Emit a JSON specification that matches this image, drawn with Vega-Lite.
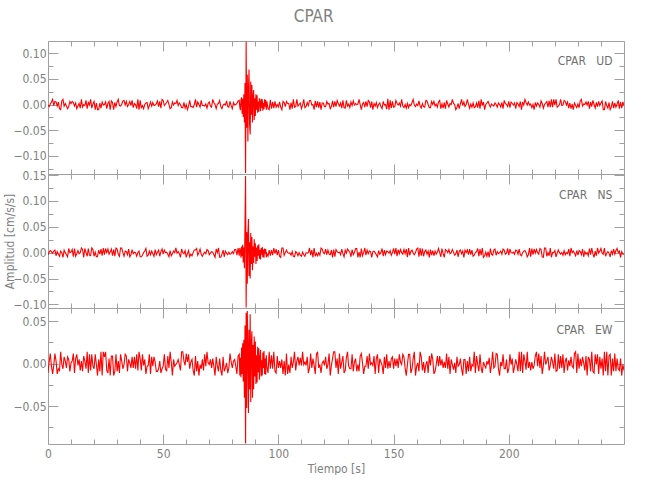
{
"$schema": "https://vega.github.io/schema/vega-lite/v6.json",
"padding": {"left": 2, "top": 8, "right": 0, "bottom": 0},
"bounds": "flush",
"spacing": 0,
"title": {"text": "CPAR", "font": "Liberation Sans Narrow, DejaVu Sans Condensed, Liberation Sans, sans-serif", "fontSize": 17, "fontWeight": "normal", "color": "#808080", "anchor": "middle", "offset": 14},
"data": {"values": [
{"t":0,"u":-0.001,"n":-0.004,"e":-0.011},{"t":0.5,"u":-0.004,"n":0.001,"e":0.002},{"t":1,"u":0.001,"n":0.004,"e":0.012},{"t":1.5,"u":0.005,"n":0.002,"e":-0.003},{"t":2,"u":0.010,"n":-0.001,"e":-0.012},{"t":2.5,"u":-0.002,"n":0.003,"e":-0.002},{"t":3,"u":0.006,"n":0.005,"e":0.012},{"t":3.5,"u":0.005,"n":-0.006,"e":0.003},{"t":4,"u":-0.003,"n":0.002,"e":-0.012},{"t":4.5,"u":0.005,"n":-0.003,"e":-0.006},
{"t":5,"u":-0.008,"n":-0.007,"e":-0.008},{"t":5.5,"u":-0.010,"n":0.003,"e":0.014},{"t":6,"u":0.007,"n":0,"e":-0.001},{"t":6.5,"u":0.010,"n":-0.009,"e":-0.006},{"t":7,"u":-0.003,"n":0.005,"e":0.008},{"t":7.5,"u":0.002,"n":0,"e":0.003},{"t":8,"u":-0.003,"n":-0.004,"e":-0.005},{"t":8.5,"u":-0.008,"n":-0.008,"e":0.008},{"t":9,"u":-0.004,"n":0.008,"e":0.005},{"t":9.5,"u":0.006,"n":0,"e":-0.009},
{"t":10,"u":0.002,"n":0.001,"e":0.001},{"t":10.5,"u":0.006,"n":0.006,"e":0.003},{"t":11,"u":0.004,"n":-0.008,"e":0.012},{"t":11.5,"u":-0.003,"n":0.008,"e":-0.011},{"t":12,"u":0.003,"n":-0.007,"e":0.006},{"t":12.5,"u":-0.008,"n":-0.002,"e":0.011},{"t":13,"u":-0.003,"n":0.004,"e":-0.002},{"t":13.5,"u":0.002,"n":-0.002,"e":0.005},{"t":14,"u":-0.007,"n":0,"e":-0.008},{"t":14.5,"u":0.010,"n":0.009,"e":0.003},
{"t":15,"u":-0.005,"n":0.006,"e":-0.009},{"t":15.5,"u":0,"n":-0.009,"e":0.009},{"t":16,"u":-0.002,"n":0.008,"e":0.003},{"t":16.5,"u":0.008,"n":0,"e":-0.006},{"t":17,"u":-0.008,"n":-0.007,"e":0.014},{"t":17.5,"u":0.004,"n":0.008,"e":-0.011},{"t":18,"u":-0.001,"n":-0.005,"e":0.011},{"t":18.5,"u":0.010,"n":-0.006,"e":-0.008},{"t":19,"u":-0.007,"n":0.009,"e":0.011},{"t":19.5,"u":0.001,"n":0.006,"e":-0.003},
{"t":20,"u":0.006,"n":-0.007,"e":-0.006},{"t":20.5,"u":-0.010,"n":0.001,"e":0.011},{"t":21,"u":0.003,"n":-0.008,"e":-0.001},{"t":21.5,"u":-0.010,"n":-0.007,"e":-0.014},{"t":22,"u":-0.010,"n":0.005,"e":0.005},{"t":22.5,"u":0.003,"n":-0.003,"e":-0.009},{"t":23,"u":-0.007,"n":0.007,"e":0.014},{"t":23.5,"u":0.005,"n":-0.006,"e":-0.014},{"t":24,"u":-0.001,"n":0.009,"e":0.014},{"t":24.5,"u":0,"n":-0.004,"e":0.008},
{"t":25,"u":0.005,"n":0.008,"e":0.014},{"t":25.5,"u":-0.008,"n":0,"e":-0.008},{"t":26,"u":0.002,"n":0.007,"e":-0.011},{"t":26.5,"u":0.006,"n":-0.003,"e":0.006},{"t":27,"u":-0.010,"n":0.001,"e":-0.014},{"t":27.5,"u":0.007,"n":0.007,"e":0.009},{"t":28,"u":0.004,"n":-0.006,"e":0.009},{"t":28.5,"u":-0.010,"n":0.006,"e":-0.014},{"t":29,"u":0.004,"n":-0.007,"e":-0.009},{"t":29.5,"u":-0.004,"n":0.009,"e":0.011},
{"t":30,"u":0.005,"n":0.007,"e":-0.009},{"t":30.5,"u":0.010,"n":-0.003,"e":0.003},{"t":31,"u":-0.002,"n":-0.007,"e":-0.011},{"t":31.5,"u":-0.003,"n":0.009,"e":0.011},{"t":32,"u":0,"n":0.009,"e":0.003},{"t":32.5,"u":0.007,"n":0,"e":-0.006},{"t":33,"u":0.008,"n":-0.007,"e":-0.001},{"t":33.5,"u":-0.001,"n":0.003,"e":0.011},{"t":34,"u":0.006,"n":0.002,"e":0.009},{"t":34.5,"u":-0.004,"n":-0.004,"e":-0.009},
{"t":35,"u":0,"n":0.007,"e":0.005},{"t":35.5,"u":0.006,"n":-0.008,"e":0.001},{"t":36,"u":-0.002,"n":-0.004,"e":-0.005},{"t":36.5,"u":0.008,"n":0.006,"e":0.008},{"t":37,"u":-0.006,"n":-0.002,"e":-0.005},{"t":37.5,"u":0.002,"n":0.001,"e":0.008},{"t":38,"u":0,"n":0,"e":-0.006},{"t":38.5,"u":-0.008,"n":-0.007,"e":0.011},{"t":39,"u":0.010,"n":0,"e":-0.008},{"t":39.5,"u":-0.010,"n":0.003,"e":0.014},
{"t":40,"u":0.008,"n":-0.008,"e":0.006},{"t":40.5,"u":-0.006,"n":-0.008,"e":-0.008},{"t":41,"u":-0.002,"n":-0.005,"e":0.011},{"t":41.5,"u":-0.008,"n":0,"e":-0.002},{"t":42,"u":0,"n":0.003,"e":0.005},{"t":42.5,"u":0.003,"n":0.008,"e":-0.012},{"t":43,"u":0.004,"n":-0.007,"e":-0.003},{"t":43.5,"u":-0.008,"n":-0.005,"e":-0.002},{"t":44,"u":-0.002,"n":0.003,"e":0.011},{"t":44.5,"u":0.005,"n":-0.004,"e":-0.012},
{"t":45,"u":-0.003,"n":0.003,"e":0.008},{"t":45.5,"u":0.004,"n":-0.002,"e":-0.003},{"t":46,"u":-0.002,"n":-0.007,"e":0.008},{"t":46.5,"u":-0.001,"n":0.006,"e":0.002},{"t":47,"u":0.001,"n":-0.004,"e":-0.009},{"t":47.5,"u":0.007,"n":0.001,"e":-0.009},{"t":48,"u":-0.004,"n":0.005,"e":-0.006},{"t":48.5,"u":0.006,"n":-0.007,"e":0.003},{"t":49,"u":-0.007,"n":0.002,"e":-0.011},{"t":49.5,"u":0.010,"n":0.007,"e":-0.006},
{"t":50,"u":0.008,"n":-0.003,"e":-0.003},{"t":50.5,"u":-0.002,"n":0.005,"e":0.011},{"t":51,"u":0.001,"n":0,"e":-0.006},{"t":51.5,"u":0.004,"n":0.001,"e":-0.009},{"t":52,"u":0.008,"n":-0.003,"e":0.009},{"t":52.5,"u":0,"n":-0.008,"e":-0.005},{"t":53,"u":-0.008,"n":0.004,"e":0.014},{"t":53.5,"u":-0.006,"n":-0.006,"e":0.002},{"t":54,"u":0.005,"n":-0.002,"e":-0.014},{"t":54.5,"u":-0.001,"n":0.003,"e":0.005},
{"t":55,"u":0.003,"n":0,"e":-0.003},{"t":55.5,"u":0.002,"n":0.009,"e":-0.001},{"t":56,"u":0.008,"n":-0.001,"e":0.001},{"t":56.5,"u":-0.002,"n":0.002,"e":0.005},{"t":57,"u":0.003,"n":-0.002,"e":-0.001},{"t":57.5,"u":0,"n":-0.009,"e":-0.008},{"t":58,"u":-0.006,"n":0.007,"e":0.014},{"t":58.5,"u":-0.006,"n":0,"e":0.014},{"t":59,"u":0.004,"n":-0.002,"e":0.003},{"t":59.5,"u":-0.007,"n":0.004,"e":-0.002},
{"t":60,"u":0,"n":-0.009,"e":0.012},{"t":60.5,"u":-0.010,"n":-0.002,"e":0.002},{"t":61,"u":-0.003,"n":0.004,"e":0.011},{"t":61.5,"u":0.008,"n":-0.008,"e":-0.006},{"t":62,"u":-0.004,"n":-0.003,"e":0.002},{"t":62.5,"u":-0.004,"n":-0.006,"e":0.005},{"t":63,"u":-0.006,"n":0,"e":-0.008},{"t":63.5,"u":0,"n":0.005,"e":-0.014},{"t":64,"u":0.010,"n":0.005,"e":0.009},{"t":64.5,"u":-0.005,"n":0.008,"e":-0.009},
{"t":65,"u":0.005,"n":-0.005,"e":0.003},{"t":65.5,"u":0,"n":0,"e":-0.014},{"t":66,"u":-0.005,"n":0.007,"e":-0.001},{"t":66.5,"u":0.008,"n":-0.003,"e":-0.006},{"t":67,"u":-0.002,"n":-0.007,"e":0.005},{"t":67.5,"u":-0.002,"n":-0.002,"e":-0.008},{"t":68,"u":-0.003,"n":0.001,"e":0.011},{"t":68.5,"u":0.001,"n":-0.002,"e":-0.003},{"t":69,"u":-0.007,"n":0.006,"e":0.014},{"t":69.5,"u":0.002,"n":0.004,"e":0.001},
{"t":70,"u":0.005,"n":-0.004,"e":-0.001},{"t":70.5,"u":-0.003,"n":-0.001,"e":0.005},{"t":71,"u":-0.005,"n":0.002,"e":-0.005},{"t":71.5,"u":0.010,"n":0.001,"e":0.006},{"t":72,"u":0.004,"n":-0.004,"e":-0.003},{"t":72.5,"u":0,"n":-0.009,"e":-0.014},{"t":73,"u":-0.008,"n":0.007,"e":0.008},{"t":73.5,"u":0.001,"n":0,"e":-0.003},{"t":74,"u":0.002,"n":0.009,"e":-0.009},{"t":74.5,"u":0.008,"n":-0.009,"e":0.006},
{"t":75,"u":-0.004,"n":-0.009,"e":-0.008},{"t":75.5,"u":-0.008,"n":-0.003,"e":-0.014},{"t":76,"u":-0.001,"n":0.005,"e":0.008},{"t":76.5,"u":0.001,"n":-0.008,"e":-0.009},{"t":77,"u":-0.001,"n":0.003,"e":-0.005},{"t":77.5,"u":0.007,"n":-0.001,"e":0.001},{"t":78,"u":-0.004,"n":-0.004,"e":-0.011},{"t":78.5,"u":-0.005,"n":0.001,"e":-0.005},{"t":79,"u":0.006,"n":-0.003,"e":0.012},{"t":79.5,"u":-0.002,"n":-0.002,"e":0.002},
{"t":80,"u":-0.008,"n":0.002,"e":-0.005},{"t":80.5,"u":0.004,"n":-0.002,"e":0.003},{"t":81,"u":-0.001,"n":0.006,"e":0.005},{"t":81.5,"u":0,"n":0.006,"e":-0.003},{"t":82,"u":0.002,"n":-0.005,"e":-0.012},{"t":82.5,"u":0.007,"n":0.009,"e":0.009},
{"t":83,"u":0.008,"n":-0.006,"e":0.011},{"t":83.25,"u":-0.005,"n":0.009,"e":-0.014},{"t":83.5,"u":-0.011,"n":0.004,"e":0.007},{"t":83.75,"u":0.009,"n":-0.010,"e":-0.016},{"t":84,"u":0.014,"n":0.012,"e":0.019},{"t":84.25,"u":-0.018,"n":-0.007,"e":-0.012},{"t":84.5,"u":0.011,"n":0.015,"e":0.024},{"t":84.75,"u":-0.024,"n":-0.019,"e":-0.021},{"t":85,"u":0.020,"n":0.010,"e":0.028},{"t":85.25,"u":-0.035,"n":-0.030,"e":-0.040},
{"t":85.5,"u":0.042,"n":0.055,"e":0.045},{"t":85.75,"u":-0.133,"n":0.148,"e":-0.094},{"t":86,"u":0.122,"n":-0.106,"e":0.060},{"t":86.25,"u":-0.045,"n":0.040,"e":-0.052},{"t":86.5,"u":0.058,"n":-0.060,"e":0.062},{"t":86.75,"u":-0.072,"n":0.035,"e":0.020},{"t":87,"u":0.030,"n":0.065,"e":-0.058},{"t":87.25,"u":0.068,"n":-0.045,"e":0.040},{"t":87.5,"u":-0.040,"n":0.020,"e":-0.030},{"t":87.75,"u":-0.058,"n":-0.050,"e":0.058},
{"t":88,"u":0.045,"n":0.038,"e":-0.045},{"t":88.25,"u":-0.020,"n":-0.022,"e":0.025},{"t":88.5,"u":0.038,"n":0.030,"e":0.038},{"t":88.75,"u":-0.035,"n":-0.034,"e":-0.040},{"t":89,"u":0.015,"n":0.012,"e":0.022},{"t":89.25,"u":0.028,"n":-0.020,"e":-0.030},{"t":89.5,"u":-0.030,"n":0.026,"e":0.032},{"t":89.75,"u":0.012,"n":-0.008,"e":-0.015},{"t":90,"u":-0.022,"n":0.018,"e":0.026},{"t":90.25,"u":0.020,"n":-0.022,"e":-0.024},
{"t":90.5,"u":-0.010,"n":0.010,"e":0.010},{"t":90.75,"u":0.018,"n":-0.016,"e":-0.022},{"t":91,"u":-0.016,"n":0.014,"e":0.020},{"t":91.25,"u":0.006,"n":-0.006,"e":-0.010},{"t":91.5,"u":-0.014,"n":0.016,"e":0.018},{"t":91.75,"u":0.012,"n":-0.012,"e":-0.019},{"t":92,"u":0.004,"n":0.005,"e":0.006},{"t":92.25,"u":-0.013,"n":-0.013,"e":0.016},{"t":92.5,"u":0.011,"n":0.009,"e":-0.015},{"t":92.75,"u":-0.006,"n":-0.004,"e":0.004},
{"t":93,"u":0.010,"n":0.011,"e":-0.014},{"t":93.25,"u":-0.012,"n":-0.009,"e":0.013},{"t":93.5,"u":0.003,"n":0.006,"e":-0.005},{"t":93.75,"u":-0.009,"n":-0.010,"e":0.015},{"t":94,"u":0.010,"n":0.008,"e":-0.012},{"t":94.25,"u":-0.004,"n":-0.002,"e":0.006},{"t":94.5,"u":0.009,"n":0.007,"e":-0.013},{"t":94.75,"u":-0.010,"n":-0.009,"e":0.010},
{"t":95,"u":0.006,"n":-0.002,"e":-0.003},{"t":95.5,"u":-0.008,"n":-0.007,"e":-0.011},{"t":96,"u":-0.010,"n":0.005,"e":0.014},{"t":96.5,"u":0.009,"n":-0.006,"e":-0.006},{"t":97,"u":-0.008,"n":0.005,"e":0.010},{"t":97.5,"u":0.005,"n":-0.005,"e":-0.006},{"t":98,"u":-0.007,"n":0.009,"e":0.014},{"t":98.5,"u":0.006,"n":-0.002,"e":-0.009},{"t":99,"u":-0.005,"n":0.007,"e":-0.011},{"t":99.5,"u":0,"n":-0.005,"e":0.009},
{"t":100,"u":-0.005,"n":0.005,"e":-0.005},{"t":100.5,"u":0.005,"n":-0.007,"e":0.003},{"t":101,"u":-0.005,"n":-0.009,"e":-0.005},{"t":101.5,"u":-0.010,"n":0.009,"e":0.005},{"t":102,"u":0.006,"n":0.009,"e":-0.012},{"t":102.5,"u":0.004,"n":-0.005,"e":0.003},{"t":103,"u":-0.004,"n":0,"e":-0.014},{"t":103.5,"u":0.006,"n":0.005,"e":0.012},{"t":104,"u":0.002,"n":0,"e":-0.012},{"t":104.5,"u":0.002,"n":-0.001,"e":-0.001},
{"t":105,"u":-0.010,"n":-0.001,"e":-0.011},{"t":105.5,"u":0.004,"n":-0.005,"e":0.008},{"t":106,"u":-0.008,"n":0.002,"e":-0.005},{"t":106.5,"u":0.010,"n":-0.007,"e":0.002},{"t":107,"u":-0.005,"n":-0.008,"e":0.014},{"t":107.5,"u":-0.004,"n":0.002,"e":-0.008},{"t":108,"u":0.010,"n":0,"e":0.003},{"t":108.5,"u":-0.003,"n":-0.006,"e":0.008},{"t":109,"u":0,"n":0,"e":-0.002},{"t":109.5,"u":0.003,"n":-0.005,"e":0.007},
{"t":110,"u":-0.008,"n":-0.007,"e":-0.002},{"t":110.5,"u":-0.001,"n":0.001,"e":0.014},{"t":111,"u":0.010,"n":-0.004,"e":-0.001},{"t":111.5,"u":-0.006,"n":-0.007,"e":0.002},{"t":112,"u":-0.004,"n":0,"e":-0.002},{"t":112.5,"u":0.004,"n":-0.001,"e":0.008},{"t":113,"u":-0.002,"n":0,"e":-0.011},{"t":113.5,"u":0.008,"n":0.009,"e":-0.005},{"t":114,"u":0.008,"n":-0.005,"e":0.012},{"t":114.5,"u":-0.001,"n":0.005,"e":-0.005},
{"t":115,"u":0,"n":-0.009,"e":0.006},{"t":115.5,"u":-0.010,"n":0.009,"e":-0.002},{"t":116,"u":0.007,"n":-0.007,"e":-0.012},{"t":116.5,"u":-0.005,"n":-0.001,"e":0.011},{"t":117,"u":0.006,"n":-0.006,"e":0.014},{"t":117.5,"u":-0.006,"n":0,"e":-0.005},{"t":118,"u":0.005,"n":-0.005,"e":-0.001},{"t":118.5,"u":-0.010,"n":0.009,"e":-0.011},{"t":119,"u":0.003,"n":0.007,"e":0.001},{"t":119.5,"u":0.003,"n":0,"e":0.003},
{"t":120,"u":-0.004,"n":-0.002,"e":-0.002},{"t":120.5,"u":-0.004,"n":0.007,"e":0.008},{"t":121,"u":0.006,"n":-0.004,"e":-0.006},{"t":121.5,"u":0.001,"n":0.005,"e":-0.001},{"t":122,"u":0.002,"n":-0.003,"e":0.012},{"t":122.5,"u":-0.008,"n":-0.004,"e":-0.014},{"t":123,"u":-0.004,"n":0.005,"e":-0.002},{"t":123.5,"u":0.007,"n":-0.009,"e":0.006},{"t":124,"u":-0.005,"n":0.006,"e":0.014},{"t":124.5,"u":0.006,"n":-0.008,"e":0.014},
{"t":125,"u":-0.004,"n":0.006,"e":-0.005},{"t":125.5,"u":0.008,"n":0.002,"e":0.006},{"t":126,"u":0.002,"n":0,"e":-0.012},{"t":126.5,"u":-0.003,"n":0.001,"e":0.012},{"t":127,"u":0.003,"n":-0.004,"e":-0.006},{"t":127.5,"u":-0.007,"n":0.007,"e":0.002},{"t":128,"u":0.008,"n":-0.002,"e":0.009},{"t":128.5,"u":-0.006,"n":-0.008,"e":-0.011},{"t":129,"u":-0.007,"n":0.005,"e":-0.008},{"t":129.5,"u":0.008,"n":-0.001,"e":0.007},
{"t":130,"u":-0.003,"n":0.007,"e":0.014},{"t":130.5,"u":0.001,"n":0.004,"e":-0.003},{"t":131,"u":-0.006,"n":0.001,"e":-0.006},{"t":131.5,"u":0.005,"n":-0.008,"e":-0.006},{"t":132,"u":-0.002,"n":0.006,"e":0.011},{"t":132.5,"u":0.007,"n":-0.004,"e":-0.009},{"t":133,"u":-0.001,"n":0,"e":0.002},{"t":133.5,"u":0.002,"n":0.008,"e":0.006},{"t":134,"u":0,"n":0.008,"e":-0.009},{"t":134.5,"u":0.001,"n":-0.009,"e":-0.001},
{"t":135,"u":0.010,"n":0.001,"e":-0.009},{"t":135.5,"u":0,"n":-0.009,"e":0.009},{"t":136,"u":-0.010,"n":0.008,"e":0.012},{"t":136.5,"u":0.001,"n":-0.006,"e":0.001},{"t":137,"u":0.004,"n":0,"e":-0.012},{"t":137.5,"u":-0.005,"n":0.009,"e":-0.003},{"t":138,"u":0.006,"n":-0.005,"e":-0.003},{"t":138.5,"u":-0.004,"n":0.005,"e":0.009},{"t":139,"u":0.008,"n":-0.002,"e":-0.006},{"t":139.5,"u":0.005,"n":0.003,"e":0.012},
{"t":140,"u":-0.006,"n":0.002,"e":-0.001},{"t":140.5,"u":0.006,"n":-0.009,"e":0.001},{"t":141,"u":-0.010,"n":0.002,"e":-0.002},{"t":141.5,"u":0.002,"n":0.003,"e":0.009},{"t":142,"u":-0.003,"n":0,"e":-0.012},{"t":142.5,"u":0.004,"n":-0.004,"e":0.006},{"t":143,"u":-0.006,"n":-0.008,"e":0.011},{"t":143.5,"u":0,"n":0.004,"e":-0.011},{"t":144,"u":0.003,"n":-0.003,"e":0.006},{"t":144.5,"u":-0.004,"n":0,"e":0.002},
{"t":145,"u":-0.008,"n":0.008,"e":-0.002},{"t":145.5,"u":0.006,"n":-0.007,"e":-0.012},{"t":146,"u":-0.001,"n":0.005,"e":0.008},{"t":146.5,"u":0,"n":-0.004,"e":-0.005},{"t":147,"u":-0.009,"n":0.003,"e":0.011},{"t":147.5,"u":0.011,"n":0.002,"e":-0.006},{"t":148,"u":-0.010,"n":-0.001,"e":0.003},{"t":148.5,"u":0.008,"n":0.004,"e":-0.005},{"t":149,"u":-0.007,"n":-0.005,"e":0.006},{"t":149.5,"u":0.006,"n":0,"e":0.008},
{"t":150,"u":-0.005,"n":0.008,"e":-0.006},{"t":150.5,"u":-0.004,"n":-0.003,"e":0.006},{"t":151,"u":0.008,"n":0.009,"e":-0.003},{"t":151.5,"u":0.002,"n":-0.007,"e":0.006},{"t":152,"u":-0.001,"n":0.006,"e":-0.005},{"t":152.5,"u":0.003,"n":-0.002,"e":0.011},{"t":153,"u":-0.003,"n":0.006,"e":0.002},{"t":153.5,"u":0.010,"n":0,"e":-0.001},{"t":154,"u":-0.003,"n":-0.003,"e":0.011},{"t":154.5,"u":-0.006,"n":0.006,"e":0.008},
{"t":155,"u":0,"n":-0.002,"e":-0.005},{"t":155.5,"u":-0.007,"n":0.007,"e":-0.014},{"t":156,"u":0.002,"n":-0.009,"e":-0.001},{"t":156.5,"u":-0.006,"n":0.009,"e":0.011},{"t":157,"u":0,"n":-0.005,"e":0.011},{"t":157.5,"u":-0.002,"n":0.002,"e":-0.011},{"t":158,"u":0.004,"n":0.005,"e":-0.006},{"t":158.5,"u":0.010,"n":-0.001,"e":0.006},{"t":159,"u":-0.001,"n":-0.004,"e":0.014},{"t":159.5,"u":-0.004,"n":0,"e":-0.014},
{"t":160,"u":0.001,"n":0.007,"e":-0.003},{"t":160.5,"u":-0.002,"n":0.009,"e":0.001},{"t":161,"u":0.007,"n":-0.008,"e":-0.009},{"t":161.5,"u":-0.003,"n":0.009,"e":0.014},{"t":162,"u":-0.007,"n":-0.006,"e":0.008},{"t":162.5,"u":0.002,"n":0.008,"e":-0.008},{"t":163,"u":-0.004,"n":-0.007,"e":0.002},{"t":163.5,"u":-0.005,"n":0.002,"e":-0.011},{"t":164,"u":0.008,"n":0.005,"e":-0.001},{"t":164.5,"u":0.007,"n":-0.003,"e":0.003},
{"t":165,"u":0,"n":0.003,"e":-0.011},{"t":165.5,"u":-0.006,"n":-0.009,"e":0.009},{"t":166,"u":-0.006,"n":0.006,"e":-0.002},{"t":166.5,"u":0.006,"n":-0.005,"e":0.012},{"t":167,"u":0,"n":0.004,"e":0.005},{"t":167.5,"u":0.006,"n":-0.006,"e":-0.012},{"t":168,"u":-0.003,"n":0.003,"e":-0.009},{"t":168.5,"u":0.001,"n":-0.003,"e":-0.001},{"t":169,"u":-0.005,"n":0.001,"e":0.009},{"t":169.5,"u":0.005,"n":0.008,"e":-0.003},
{"t":170,"u":0.008,"n":0,"e":0.009},{"t":170.5,"u":-0.008,"n":-0.008,"e":-0.002},{"t":171,"u":0.001,"n":0.008,"e":0.005},{"t":171.5,"u":-0.007,"n":-0.002,"e":-0.005},{"t":172,"u":0.004,"n":-0.009,"e":0.002},{"t":172.5,"u":-0.008,"n":0.006,"e":-0.005},{"t":173,"u":0.008,"n":0.004,"e":0.012},{"t":173.5,"u":0.001,"n":0,"e":-0.006},{"t":174,"u":-0.005,"n":0.006,"e":0.008},{"t":174.5,"u":0.002,"n":-0.002,"e":-0.012},
{"t":175,"u":0,"n":0,"e":0.005},{"t":175.5,"u":0.010,"n":0.006,"e":-0.001},{"t":176,"u":0.002,"n":0.001,"e":-0.007},{"t":176.5,"u":0,"n":-0.005,"e":0.001},{"t":177,"u":-0.010,"n":-0.002,"e":-0.011},{"t":177.5,"u":-0.006,"n":0.005,"e":0.008},{"t":178,"u":0.002,"n":-0.008,"e":-0.003},{"t":178.5,"u":-0.008,"n":0.003,"e":-0.001},{"t":179,"u":0.002,"n":0.005,"e":0.006},{"t":179.5,"u":0.010,"n":-0.002,"e":-0.006},
{"t":180,"u":-0.002,"n":0.003,"e":-0.014},{"t":180.5,"u":0.005,"n":-0.009,"e":0.005},{"t":181,"u":-0.004,"n":0.005,"e":0.005},{"t":181.5,"u":0,"n":0,"e":-0.012},{"t":182,"u":0.010,"n":0.005,"e":0.003},{"t":182.5,"u":0.001,"n":-0.004,"e":-0.009},{"t":183,"u":-0.007,"n":0.007,"e":0.008},{"t":183.5,"u":0.001,"n":-0.004,"e":-0.009},{"t":184,"u":-0.005,"n":0.005,"e":-0.001},{"t":184.5,"u":0.003,"n":-0.007,"e":-0.003},
{"t":185,"u":-0.006,"n":-0.005,"e":0.014},{"t":185.5,"u":-0.004,"n":0,"e":-0.011},{"t":186,"u":0.003,"n":0.002,"e":0.009},{"t":186.5,"u":-0.006,"n":0.008,"e":-0.001},{"t":187,"u":0.007,"n":-0.007,"e":-0.009},{"t":187.5,"u":-0.008,"n":0.007,"e":0.011},{"t":188,"u":0.010,"n":-0.005,"e":-0.005},{"t":188.5,"u":-0.002,"n":0.009,"e":-0.011},{"t":189,"u":0.005,"n":-0.009,"e":0.002},{"t":189.5,"u":-0.010,"n":-0.006,"e":-0.002},
{"t":190,"u":0,"n":0.001,"e":-0.005},{"t":190.5,"u":0.003,"n":-0.007,"e":0.003},{"t":191,"u":0.006,"n":0.002,"e":-0.001},{"t":191.5,"u":0,"n":-0.009,"e":0.007},{"t":192,"u":-0.005,"n":0.008,"e":-0.011},{"t":192.5,"u":0.001,"n":-0.003,"e":-0.001},{"t":193,"u":-0.001,"n":-0.005,"e":0.014},{"t":193.5,"u":-0.003,"n":0.005,"e":-0.005},{"t":194,"u":0.003,"n":0.007,"e":-0.003},{"t":194.5,"u":0,"n":-0.005,"e":0.012},
{"t":195,"u":-0.005,"n":0.002,"e":0.011},{"t":195.5,"u":0.003,"n":-0.002,"e":-0.006},{"t":196,"u":0,"n":0,"e":-0.014},{"t":196.5,"u":-0.005,"n":0.003,"e":0.002},{"t":197,"u":0.004,"n":-0.003,"e":-0.003},{"t":197.5,"u":-0.008,"n":0.007,"e":0.011},{"t":198,"u":0.008,"n":0.005,"e":-0.006},{"t":198.5,"u":0.002,"n":-0.003,"e":-0.006},{"t":199,"u":0,"n":-0.001,"e":0.005},{"t":199.5,"u":-0.004,"n":0.008,"e":-0.011},
{"t":200,"u":0.006,"n":-0.005,"e":-0.006},{"t":200.5,"u":-0.006,"n":0.007,"e":0.011},{"t":201,"u":0.005,"n":0,"e":-0.001},{"t":201.5,"u":0.002,"n":-0.001,"e":0.006},{"t":202,"u":-0.001,"n":0.001,"e":-0.011},{"t":202.5,"u":0.003,"n":-0.003,"e":-0.003},{"t":203,"u":-0.008,"n":0.005,"e":0.005},{"t":203.5,"u":0.004,"n":0.004,"e":-0.001},{"t":204,"u":0.001,"n":-0.003,"e":-0.009},{"t":204.5,"u":-0.004,"n":0.007,"e":0.014},
{"t":205,"u":0.006,"n":-0.004,"e":-0.009},{"t":205.5,"u":-0.010,"n":-0.006,"e":0.014},{"t":206,"u":0.005,"n":0,"e":-0.011},{"t":206.5,"u":-0.001,"n":0.003,"e":0.011},{"t":207,"u":0.010,"n":0.004,"e":0.003},{"t":207.5,"u":0.004,"n":0,"e":-0.007},{"t":208,"u":-0.001,"n":-0.008,"e":0.014},{"t":208.5,"u":0.005,"n":-0.004,"e":-0.005},{"t":209,"u":-0.001,"n":0.009,"e":0.002},{"t":209.5,"u":0.001,"n":-0.008,"e":-0.008},
{"t":210,"u":-0.006,"n":0.008,"e":0.002},{"t":210.5,"u":0,"n":-0.004,"e":-0.006},{"t":211,"u":-0.010,"n":0.007,"e":-0.002},{"t":211.5,"u":0.004,"n":-0.001,"e":0.009},{"t":212,"u":-0.003,"n":0.006,"e":0.014},{"t":212.5,"u":0.003,"n":0,"e":-0.003},{"t":213,"u":0,"n":-0.003,"e":0.012},{"t":213.5,"u":-0.005,"n":0.008,"e":-0.005},{"t":214,"u":0.007,"n":0.006,"e":0.009},{"t":214.5,"u":0.002,"n":-0.008,"e":-0.012},
{"t":215,"u":-0.007,"n":-0.009,"e":-0.002},{"t":215.5,"u":0,"n":0.009,"e":0.014},{"t":216,"u":0.003,"n":0.009,"e":-0.001},{"t":216.5,"u":0.006,"n":-0.007,"e":0.003},{"t":217,"u":-0.005,"n":0,"e":0.008},{"t":217.5,"u":0.007,"n":-0.006,"e":-0.008},{"t":218,"u":-0.005,"n":0.009,"e":-0.002},{"t":218.5,"u":0.010,"n":-0.009,"e":0.008},{"t":219,"u":-0.005,"n":0,"e":0.002},{"t":219.5,"u":0.010,"n":0,"e":-0.006},
{"t":220,"u":-0.001,"n":0.004,"e":0.012},{"t":220.5,"u":0.010,"n":-0.008,"e":-0.009},{"t":221,"u":-0.005,"n":-0.001,"e":-0.008},{"t":221.5,"u":-0.003,"n":0.005,"e":0.011},{"t":222,"u":0,"n":0,"e":-0.006},{"t":222.5,"u":0.010,"n":-0.003,"e":0.009},{"t":223,"u":-0.002,"n":0,"e":-0.005},{"t":223.5,"u":-0.001,"n":-0.005,"e":0.011},{"t":224,"u":0.008,"n":0.004,"e":-0.011},{"t":224.5,"u":0.006,"n":-0.004,"e":0.003},
{"t":225,"u":-0.001,"n":0,"e":0.007},{"t":225.5,"u":0.005,"n":-0.002,"e":-0.008},{"t":226,"u":-0.007,"n":0.007,"e":0.004},{"t":226.5,"u":0.003,"n":-0.007,"e":-0.003},{"t":227,"u":-0.008,"n":0.009,"e":0.008},{"t":227.5,"u":0.001,"n":0,"e":-0.003},{"t":228,"u":-0.010,"n":0.003,"e":-0.005},{"t":228.5,"u":0.003,"n":-0.001,"e":0.012},{"t":229,"u":-0.002,"n":-0.006,"e":0.014},{"t":229.5,"u":-0.006,"n":0.004,"e":-0.011},
{"t":230,"u":0.001,"n":-0.005,"e":0.012},{"t":230.5,"u":-0.006,"n":0.004,"e":-0.006},{"t":231,"u":0.007,"n":0.002,"e":0.006},{"t":231.5,"u":0.010,"n":-0.004,"e":-0.003},{"t":232,"u":-0.003,"n":0.007,"e":0.008},{"t":232.5,"u":0.001,"n":-0.008,"e":0.001},{"t":233,"u":0,"n":0.002,"e":-0.008},{"t":233.5,"u":0.005,"n":-0.003,"e":0.009},{"t":234,"u":-0.001,"n":0,"e":-0.014},{"t":234.5,"u":0.006,"n":-0.006,"e":0.008},
{"t":235,"u":-0.008,"n":0.008,"e":0.005},{"t":235.5,"u":0.005,"n":-0.004,"e":-0.009},{"t":236,"u":-0.004,"n":0.009,"e":0.014},{"t":236.5,"u":0.008,"n":-0.002,"e":-0.009},{"t":237,"u":0,"n":-0.009,"e":-0.011},{"t":237.5,"u":-0.007,"n":0.003,"e":0.011},{"t":238,"u":0.004,"n":-0.006,"e":-0.001},{"t":238.5,"u":-0.004,"n":0.009,"e":0.011},{"t":239,"u":0.006,"n":-0.001,"e":-0.012},{"t":239.5,"u":-0.002,"n":0.003,"e":0.008},
{"t":240,"u":0.003,"n":0.008,"e":-0.006},{"t":240.5,"u":0.007,"n":-0.001,"e":0.006},{"t":241,"u":-0.010,"n":-0.003,"e":-0.014},{"t":241.5,"u":-0.010,"n":0.009,"e":0.014},{"t":242,"u":0.006,"n":-0.007,"e":-0.009},{"t":242.5,"u":-0.002,"n":-0.001,"e":0.014},{"t":243,"u":-0.007,"n":0.002,"e":-0.014},{"t":243.5,"u":0.004,"n":-0.001,"e":0.009},{"t":244,"u":-0.010,"n":-0.008,"e":0.011},{"t":244.5,"u":-0.005,"n":0.004,"e":-0.014},
{"t":245,"u":0.006,"n":-0.003,"e":0.006},{"t":245.5,"u":-0.007,"n":0.007,"e":-0.009},{"t":246,"u":0.003,"n":-0.003,"e":0.012},{"t":246.5,"u":-0.005,"n":0.004,"e":-0.009},{"t":247,"u":0.001,"n":0.008,"e":0.006},{"t":247.5,"u":0.008,"n":0,"e":-0.006},{"t":248,"u":-0.008,"n":0.003,"e":-0.008},{"t":248.5,"u":0.005,"n":-0.009,"e":0.006},{"t":249,"u":-0.007,"n":0.002,"e":-0.014},{"t":249.5,"u":0.005,"n":-0.003,"e":-0.001},
{"t":250,"u":-0.002,"n":-0.003,"e":-0.008}
]},
"vconcat": [
{"width": 576, "height": 133,
 "layer": [
  {"mark": {"type": "line", "color": "#ff0000", "strokeWidth": 1.1, "clip": true},
   "encoding": {
    "x": {"field": "t", "type": "quantitative", "scale": {"domain": [0, 250], "nice": false, "zero": false},
          "axis": {"orient": "bottom", "values": [0, 50, 100, 150, 200], "labels": false, "tickSize": -10, "title": null}},
    "y": {"field": "u", "type": "quantitative", "scale": {"domain": [-0.135, 0.1235], "nice": false, "zero": false},
          "axis": {"orient": "left", "values": [-0.1, -0.05, 0, 0.05, 0.1], "format": ".2f", "tickSize": -10, "labelPadding": 12, "title": null}}}},
  {"data": {"values": []}, "mark": "point",
   "encoding": {
    "x": {"field": "t", "type": "quantitative", "scale": {"domain": [0, 250], "nice": false, "zero": false},
          "axis": {"orient": "top", "values": [0, 50, 100, 150, 200], "labels": false, "tickSize": -10, "title": null}},
    "y": {"field": "u", "type": "quantitative", "scale": {"domain": [-0.135, 0.1235], "nice": false, "zero": false},
          "axis": {"orient": "right", "values": [-0.1, -0.05, 0, 0.05, 0.1], "labels": false, "tickSize": -10, "title": null}}}},
  {"data": {"values": []}, "mark": "point",
   "encoding": {
    "x": {"field": "t", "type": "quantitative", "scale": {"domain": [0, 250], "nice": false, "zero": false},
          "axis": {"orient": "bottom", "values": [10, 20, 30, 40, 60, 70, 80, 90, 110, 120, 130, 140, 160, 170, 180, 190, 210, 220, 230, 240], "labels": false, "tickSize": -5, "title": null}},
    "y": {"field": "u", "type": "quantitative", "scale": {"domain": [-0.135, 0.1235], "nice": false, "zero": false},
          "axis": {"orient": "left", "values": [-0.125, -0.075, -0.025, 0.025, 0.075], "labels": false, "tickSize": -5, "title": null}}}},
  {"data": {"values": []}, "mark": "point",
   "encoding": {
    "x": {"field": "t", "type": "quantitative", "scale": {"domain": [0, 250], "nice": false, "zero": false},
          "axis": {"orient": "top", "values": [10, 20, 30, 40, 60, 70, 80, 90, 110, 120, 130, 140, 160, 170, 180, 190, 210, 220, 230, 240], "labels": false, "tickSize": -5, "title": null}},
    "y": {"field": "u", "type": "quantitative", "scale": {"domain": [-0.135, 0.1235], "nice": false, "zero": false},
          "axis": {"orient": "right", "values": [-0.125, -0.075, -0.025, 0.025, 0.075], "labels": false, "tickSize": -5, "title": null}}}},
  {"data": {"values": [{"lab": "CPAR\u00a0\u00a0\u00a0UD"}]},
   "mark": {"type": "text", "align": "right", "baseline": "middle", "font": "Liberation Sans Narrow, DejaVu Sans Condensed, Liberation Sans, sans-serif", "fontSize": 12, "color": "#707070"},
   "encoding": {
    "x": {"datum": 245, "type": "quantitative", "axis": null},
    "y": {"datum": 0.085, "type": "quantitative", "axis": null},
    "text": {"field": "lab"}}}
 ],
 "resolve": {"axis": {"x": "independent", "y": "independent"}}
},
{"width": 576, "height": 134,
 "layer": [
  {"mark": {"type": "line", "color": "#ff0000", "strokeWidth": 1.1, "clip": true},
   "encoding": {
    "x": {"field": "t", "type": "quantitative", "scale": {"domain": [0, 250], "nice": false, "zero": false},
          "axis": {"orient": "bottom", "values": [0, 50, 100, 150, 200], "labels": false, "tickSize": -10, "title": null}},
    "y": {"field": "n", "type": "quantitative", "scale": {"domain": [-0.107, 0.152], "nice": false, "zero": false},
          "axis": {"orient": "left", "values": [-0.1, -0.05, 0, 0.05, 0.1, 0.15], "format": ".2f", "tickSize": -10, "labelPadding": 12,
                   "title": "Amplitud  [cm/s/s]", "titleX": -39, "titleY": 67, "titleAngle": -90, "titleAlign": "center", "titleBaseline": "middle"}}}},
  {"data": {"values": []}, "mark": "point",
   "encoding": {
    "x": {"field": "t", "type": "quantitative", "scale": {"domain": [0, 250], "nice": false, "zero": false},
          "axis": {"orient": "top", "values": [0, 50, 100, 150, 200], "labels": false, "tickSize": -10, "title": null}},
    "y": {"field": "n", "type": "quantitative", "scale": {"domain": [-0.107, 0.152], "nice": false, "zero": false},
          "axis": {"orient": "right", "values": [-0.1, -0.05, 0, 0.05, 0.1, 0.15], "labels": false, "tickSize": -10, "title": null}}}},
  {"data": {"values": []}, "mark": "point",
   "encoding": {
    "x": {"field": "t", "type": "quantitative", "scale": {"domain": [0, 250], "nice": false, "zero": false},
          "axis": {"orient": "bottom", "values": [10, 20, 30, 40, 60, 70, 80, 90, 110, 120, 130, 140, 160, 170, 180, 190, 210, 220, 230, 240], "labels": false, "tickSize": -5, "title": null}},
    "y": {"field": "n", "type": "quantitative", "scale": {"domain": [-0.107, 0.152], "nice": false, "zero": false},
          "axis": {"orient": "left", "values": [-0.075, -0.025, 0.025, 0.075, 0.125], "labels": false, "tickSize": -5, "title": null}}}},
  {"data": {"values": []}, "mark": "point",
   "encoding": {
    "x": {"field": "t", "type": "quantitative", "scale": {"domain": [0, 250], "nice": false, "zero": false},
          "axis": {"orient": "top", "values": [10, 20, 30, 40, 60, 70, 80, 90, 110, 120, 130, 140, 160, 170, 180, 190, 210, 220, 230, 240], "labels": false, "tickSize": -5, "title": null}},
    "y": {"field": "n", "type": "quantitative", "scale": {"domain": [-0.107, 0.152], "nice": false, "zero": false},
          "axis": {"orient": "right", "values": [-0.075, -0.025, 0.025, 0.075, 0.125], "labels": false, "tickSize": -5, "title": null}}}},
  {"data": {"values": [{"lab": "CPAR\u00a0\u00a0\u00a0NS"}]},
   "mark": {"type": "text", "align": "right", "baseline": "middle", "font": "Liberation Sans Narrow, DejaVu Sans Condensed, Liberation Sans, sans-serif", "fontSize": 12, "color": "#707070"},
   "encoding": {
    "x": {"datum": 245, "type": "quantitative", "axis": null},
    "y": {"datum": 0.111, "type": "quantitative", "axis": null},
    "text": {"field": "lab"}}}
 ],
 "resolve": {"axis": {"x": "independent", "y": "independent"}}
},
{"width": 576, "height": 136,
 "layer": [
  {"mark": {"type": "line", "color": "#ff0000", "strokeWidth": 1.1, "clip": true},
   "encoding": {
    "x": {"field": "t", "type": "quantitative", "scale": {"domain": [0, 250], "nice": false, "zero": false},
          "axis": {"orient": "bottom", "values": [0, 50, 100, 150, 200], "format": "d", "tickSize": -10, "labelPadding": 14, "title": "Tiempo  [s]", "titlePadding": 4}},
    "y": {"field": "e", "type": "quantitative", "scale": {"domain": [-0.0945, 0.0655], "nice": false, "zero": false},
          "axis": {"orient": "left", "values": [-0.05, 0, 0.05], "format": ".2f", "tickSize": -10, "labelPadding": 12, "title": null}}}},
  {"data": {"values": []}, "mark": "point",
   "encoding": {
    "x": {"field": "t", "type": "quantitative", "scale": {"domain": [0, 250], "nice": false, "zero": false},
          "axis": {"orient": "top", "values": [0, 50, 100, 150, 200], "labels": false, "tickSize": -10, "title": null}},
    "y": {"field": "e", "type": "quantitative", "scale": {"domain": [-0.0945, 0.0655], "nice": false, "zero": false},
          "axis": {"orient": "right", "values": [-0.05, 0, 0.05], "labels": false, "tickSize": -10, "title": null}}}},
  {"data": {"values": []}, "mark": "point",
   "encoding": {
    "x": {"field": "t", "type": "quantitative", "scale": {"domain": [0, 250], "nice": false, "zero": false},
          "axis": {"orient": "bottom", "values": [10, 20, 30, 40, 60, 70, 80, 90, 110, 120, 130, 140, 160, 170, 180, 190, 210, 220, 230, 240], "labels": false, "tickSize": -5, "title": null}},
    "y": {"field": "e", "type": "quantitative", "scale": {"domain": [-0.0945, 0.0655], "nice": false, "zero": false},
          "axis": {"orient": "left", "values": [-0.075, -0.025, 0.025], "labels": false, "tickSize": -5, "title": null}}}},
  {"data": {"values": []}, "mark": "point",
   "encoding": {
    "x": {"field": "t", "type": "quantitative", "scale": {"domain": [0, 250], "nice": false, "zero": false},
          "axis": {"orient": "top", "values": [10, 20, 30, 40, 60, 70, 80, 90, 110, 120, 130, 140, 160, 170, 180, 190, 210, 220, 230, 240], "labels": false, "tickSize": -5, "title": null}},
    "y": {"field": "e", "type": "quantitative", "scale": {"domain": [-0.0945, 0.0655], "nice": false, "zero": false},
          "axis": {"orient": "right", "values": [-0.075, -0.025, 0.025], "labels": false, "tickSize": -5, "title": null}}}},
  {"data": {"values": [{"lab": "CPAR\u00a0\u00a0\u00a0EW"}]},
   "mark": {"type": "text", "align": "right", "baseline": "middle", "font": "Liberation Sans Narrow, DejaVu Sans Condensed, Liberation Sans, sans-serif", "fontSize": 12, "color": "#707070"},
   "encoding": {
    "x": {"datum": 245, "type": "quantitative", "axis": null},
    "y": {"datum": 0.0395, "type": "quantitative", "axis": null},
    "text": {"field": "lab"}}}
 ],
 "resolve": {"axis": {"x": "independent", "y": "independent"}}
}
],
"config": {
 "view": {"stroke": "#a0a0a0", "strokeWidth": 1},
 "concat": {"spacing": 0},
 "axis": {"domain": false, "grid": false, "tickColor": "#a0a0a0", "tickWidth": 1, "labelColor": "#808080", "labelFont": "Liberation Sans Narrow, DejaVu Sans Condensed, Liberation Sans, sans-serif", "labelFontSize": 12, "titleFont": "Liberation Sans Narrow, DejaVu Sans Condensed, Liberation Sans, sans-serif", "titleFontSize": 12, "titleFontWeight": "normal", "titleColor": "#808080", "labelFlush": false, "labelOverlap": false}
}
}
